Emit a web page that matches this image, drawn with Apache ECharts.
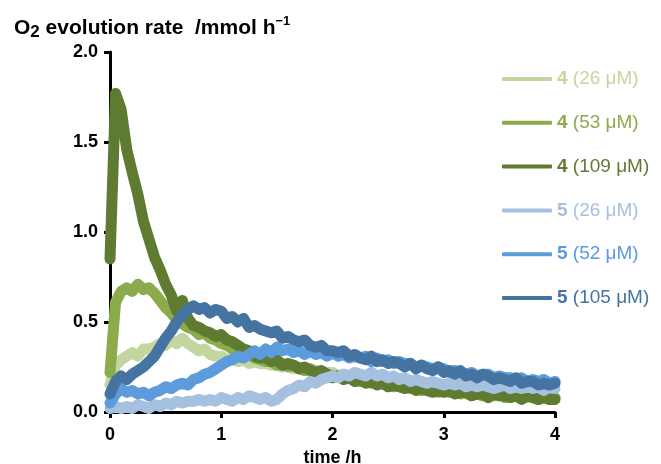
<!DOCTYPE html>
<html><head><meta charset="utf-8">
<script src="https://cdn.jsdelivr.net/npm/echarts@6/dist/echarts.min.js"></script>
<style>html,body{margin:0;padding:0;background:#fff}#c{width:661px;height:464px}</style>
</head><body><div id="c"></div>
<script>
// time points (h)
const times = [0,0.05,0.1,0.15,0.2,0.25,0.3,0.35,0.4,0.45,0.5,0.55,0.6,0.65,0.7,0.75,0.8,0.85,0.9,0.95,
1,1.05,1.1,1.15,1.2,1.25,1.3,1.35,1.4,1.45,1.5,1.55,1.6,1.65,1.7,1.75,1.8,1.85,1.9,1.95,
2,2.05,2.1,2.15,2.2,2.25,2.3,2.35,2.4,2.45,2.5,2.55,2.6,2.65,2.7,2.75,2.8,2.85,2.9,2.95,
3,3.05,3.1,3.15,3.2,3.25,3.3,3.35,3.4,3.45,3.5,3.55,3.6,3.65,3.7,3.75,3.8,3.85,3.9,3.95,4];

const seriesNames = ['4 (26 μM)','4 (53 μM)','4 (109 μM)','5 (26 μM)','5 (52 μM)','5 (105 μM)'];
const seriesColors = ['#c3d69f','#8cab4d','#5f7a31','#a6c0e0','#5c9bdc','#4573a2'];
const xTicks = [0,1,2,3,4];
const yTicks = [0,0.5,1.0,1.5,2.0];

const c4_26 = [0.15,0.26,0.29,0.31,0.33,0.31,0.35,0.35,0.36,0.38,0.37,0.40,0.38,0.41,0.38,0.36,0.34,0.35,0.32,0.31,
0.31,0.29,0.30,0.28,0.29,0.27,0.28,0.27,0.27,0.26,0.26,0.25,0.26,0.24,0.25,0.23,0.24,0.23,0.22,0.22,
0.22,0.20,0.21,0.19,0.20,0.19,0.18,0.19,0.17,0.17,0.17,0.15,0.16,0.15,0.14,0.15,0.13,0.14,0.12,0.13,
0.13,0.11,0.12,0.12,0.10,0.11,0.11,0.09,0.10,0.10,0.09,0.10,0.08,0.09,0.09,0.08,0.09,0.07,0.08,0.08,0.08];

const c4_53 = [0.22,0.61,0.67,0.69,0.67,0.71,0.68,0.69,0.66,0.62,0.58,0.55,0.51,0.49,0.47,0.46,0.43,0.44,0.41,0.40,
0.38,0.37,0.35,0.35,0.32,0.32,0.30,0.29,0.28,0.28,0.26,0.27,0.25,0.26,0.24,0.23,0.24,0.22,0.22,0.21,
0.20,0.20,0.19,0.19,0.18,0.17,0.18,0.16,0.16,0.17,0.15,0.14,0.15,0.14,0.13,0.14,0.12,0.13,0.12,0.11,
0.12,0.11,0.12,0.10,0.11,0.10,0.10,0.09,0.10,0.09,0.10,0.08,0.09,0.09,0.08,0.09,0.08,0.07,0.09,0.07,0.08];

const c4_109 = [0.85,1.77,1.68,1.46,1.33,1.21,1.06,0.96,0.86,0.79,0.71,0.65,0.56,0.62,0.52,0.48,0.47,0.45,0.44,0.42,
0.43,0.40,0.39,0.37,0.35,0.34,0.31,0.30,0.30,0.28,0.29,0.26,0.27,0.26,0.24,0.25,0.23,0.22,0.23,0.21,
0.19,0.20,0.18,0.19,0.17,0.18,0.16,0.17,0.15,0.16,0.14,0.15,0.14,0.13,0.14,0.12,0.13,0.12,0.11,0.12,
0.11,0.12,0.10,0.11,0.11,0.09,0.10,0.10,0.08,0.10,0.09,0.09,0.08,0.09,0.07,0.09,0.08,0.07,0.08,0.07,0.07];

const c5_26 = [0.02,0.03,0.02,0.03,0.02,0.04,0.03,0.02,0.04,0.03,0.05,0.04,0.06,0.05,0.06,0.06,0.07,0.06,0.07,0.06,
0.08,0.07,0.06,0.08,0.07,0.09,0.08,0.07,0.08,0.06,0.07,0.10,0.12,0.13,0.15,0.14,0.17,0.16,0.18,0.19,
0.20,0.19,0.21,0.20,0.22,0.21,0.20,0.22,0.20,0.21,0.19,0.20,0.18,0.19,0.17,0.18,0.17,0.16,0.17,0.16,
0.15,0.16,0.15,0.16,0.14,0.15,0.14,0.15,0.14,0.13,0.14,0.15,0.13,0.14,0.13,0.14,0.13,0.14,0.12,0.14,0.13];

const c5_52 = [0.05,0.10,0.13,0.11,0.12,0.10,0.11,0.09,0.11,0.12,0.14,0.13,0.15,0.16,0.15,0.18,0.19,0.21,0.22,0.24,
0.26,0.28,0.29,0.31,0.30,0.32,0.34,0.32,0.35,0.33,0.36,0.34,0.35,0.33,0.34,0.32,0.34,0.32,0.33,0.31,
0.33,0.31,0.32,0.30,0.31,0.30,0.31,0.28,0.30,0.28,0.29,0.27,0.28,0.27,0.27,0.25,0.26,0.25,0.24,0.25,
0.24,0.22,0.23,0.22,0.21,0.22,0.20,0.21,0.21,0.19,0.20,0.19,0.19,0.18,0.19,0.17,0.18,0.17,0.18,0.16,0.17];

const c5_105 = [0.10,0.17,0.20,0.18,0.21,0.23,0.25,0.28,0.31,0.36,0.41,0.45,0.50,0.54,0.57,0.59,0.57,0.58,0.55,0.57,
0.56,0.52,0.53,0.50,0.52,0.47,0.48,0.46,0.45,0.44,0.45,0.41,0.42,0.40,0.39,0.40,0.37,0.36,0.37,0.34,
0.34,0.33,0.34,0.31,0.32,0.30,0.29,0.31,0.28,0.29,0.27,0.28,0.27,0.25,0.27,0.24,0.26,0.24,0.23,0.25,
0.22,0.23,0.21,0.23,0.20,0.21,0.19,0.21,0.20,0.18,0.19,0.18,0.17,0.19,0.16,0.17,0.17,0.15,0.16,0.15,0.16];

const seriesValues = [c4_26, c4_53, c4_109, c5_26, c5_52, c5_105];

const FONT = 'Liberation Sans, Arial, sans-serif';
const chart = echarts.init(document.getElementById('c'), null, {renderer: 'canvas'});

const option = {
  animation: false,
  backgroundColor: '#fff',
  grid: {left: 110, right: 106, top: 52, bottom: 52, outerBoundsMode: 'none', containLabel: false},
  title: {
    text: '{n|O}{sub|2}{n| evolution rate  /mmol h}{sup|−1}',
    left: 9, top: 10,
    textStyle: {
      rich: {
        n: {fontSize: 21, fontWeight: 'bold', fontFamily: FONT, color: '#000', lineHeight: 26, verticalAlign: 'middle'},
        sub: {fontSize: 17, fontWeight: 'bold', fontFamily: FONT, color: '#000', lineHeight: 17, verticalAlign: 'bottom'},
        sup: {fontSize: 13, fontWeight: 'bold', fontFamily: FONT, color: '#000', lineHeight: 12, verticalAlign: 'top'}
      }
    }
  },
  legend: {
    orient: 'vertical',
    left: 497, top: 64,
    itemWidth: 50, itemHeight: 4,
    itemGap: 23.8,
    itemTextGap: 4,
    icon: 'roundRect',
    textStyle: {fontSize: 19, fontFamily: FONT, lineHeight: 20},
    formatter: function (name) {
      const sp = name.indexOf(' ');
      return '{b|' + name.slice(0, sp) + '}' + name.slice(sp);
    },
    data: seriesNames.map((n, i) => ({
      name: n,
      itemStyle: {color: seriesColors[i]},
      textStyle: {color: seriesColors[i], fontSize: 19, fontFamily: FONT,
        rich: {b: {fontWeight: 'bold', fontSize: 19, fontFamily: FONT, color: seriesColors[i]}}}
    }))
  },
  xAxis: {
    type: 'value', min: 0, max: 4, interval: 1,
    axisLine: {show: true, onZero: false, lineStyle: {color: '#000', width: 3}},
    axisTick: {show: true, length: 6, lineStyle: {color: '#000', width: 3}},
    axisLabel: {fontSize: 18, fontWeight: 'bold', color: '#000', fontFamily: FONT, margin: 14,
      formatter: v => String(v)},
    splitLine: {show: false},
    name: 'time /h', nameLocation: 'middle', nameGap: 34,
    nameTextStyle: {fontSize: 18, fontWeight: 'bold', color: '#000', fontFamily: FONT}
  },
  yAxis: {
    type: 'value', min: 0, max: 2, interval: 0.5,
    axisLine: {show: true, lineStyle: {color: '#000', width: 3}},
    axisTick: {show: true, length: 6, lineStyle: {color: '#000', width: 3}},
    axisLabel: {fontSize: 18, fontWeight: 'bold', color: '#000', fontFamily: FONT, margin: 12,
      formatter: v => v.toFixed(1)},
    splitLine: {show: false}
  },
  series: seriesNames.map((n, i) => ({
    name: n, type: 'line',
    data: times.map((t, j) => [t, seriesValues[i][j]]),
    symbol: 'none', showSymbol: false, smooth: false,
    lineStyle: {width: 11, color: seriesColors[i], join: 'round', cap: 'round'},
    itemStyle: {color: seriesColors[i]},
    z: 2
  }))
};
chart.setOption(option);
</script>
</body></html>
